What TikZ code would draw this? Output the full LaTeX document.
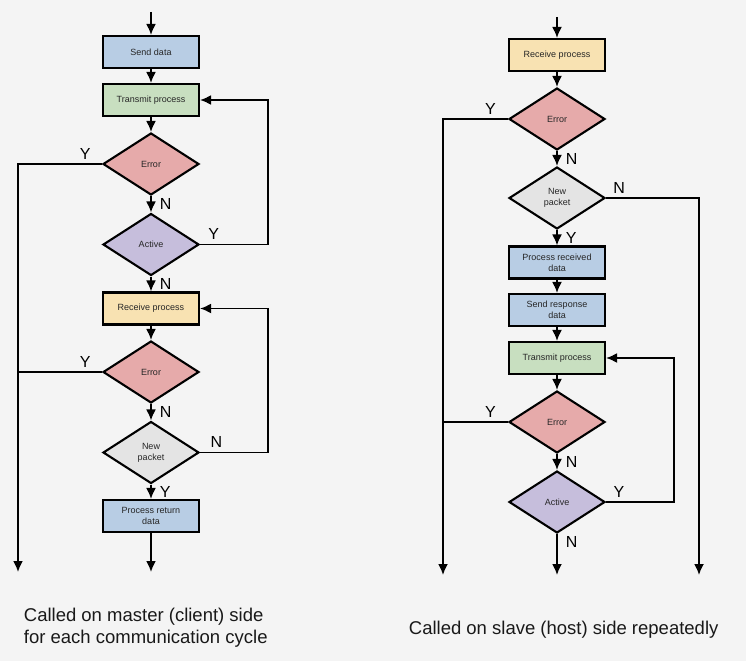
\documentclass[tikz,border=0pt]{standalone}
\usepackage{fontspec}
\setmainfont{Liberation Sans}
\usetikzlibrary{shapes.geometric,arrows.meta}
\definecolor{bgcol}{HTML}{F4F4F4}
\definecolor{procblue}{HTML}{B8CDE4}
\definecolor{txgreen}{HTML}{C8DFC0}
\definecolor{rxyellow}{HTML}{F8E2B2}
\definecolor{errred}{HTML}{E6AAAA}
\definecolor{actpurple}{HTML}{C6BEDC}
\definecolor{newgrey}{HTML}{E4E4E4}

\begin{document}
\begin{tikzpicture}[x=1pt, y=1pt, auto, >={Latex[length=11pt,width=10pt]}, line width=1.8pt]
    \tikzstyle{every node} = [font=\fontsize{9}{11}\selectfont, text=black!85]
    \tikzstyle{textbox} = [align=center, draw, minimum height=32pt, minimum width=96pt, line width=2.1pt, inner sep=1pt]
    \tikzstyle{process} = [textbox, rectangle]
    \tikzstyle{decision} = [textbox, diamond, aspect=1.55, minimum height=62pt, minimum width=96pt, inner sep=0pt]
    \tikzstyle{yn} = [font=\fontsize{16}{16}\selectfont, text=black, inner sep=2pt]
    \tikzstyle{caption} = [font=\fontsize{18.5}{22}\selectfont, align=left, text=black!90, inner sep=0pt, anchor=west]

    \useasboundingbox (0,0) rectangle (746,-661);
    \fill [bgcol] (0,0) rectangle (746,-661);

    % master side
    \node (send) [process, fill=procblue] at (151,-52) {Send data};
    \node (txl) [process, fill=txgreen, below of=send, node distance=48pt] {Transmit process};
    \node (errl) [decision, fill=errred, below of=txl, node distance=64pt] {Error};
    \node (actl) [decision, fill=actpurple, below of=errl, node distance=80.5pt] {Active};
    \node (rxl) [process, fill=rxyellow, below of=actl, node distance=64pt] {Receive process};
    \node (err2l) [decision, fill=errred, below of=rxl, node distance=63.5pt] {Error};
    \node (newl) [decision, fill=newgrey, below of=err2l, node distance=80.5pt] {New\\packet};
    \node (retl) [process, fill=procblue, below of=newl, node distance=63.5pt] {Process return\\data};

    \coordinate (startl) at (151,-12);
    \coordinate (endl) at (18,-572);
    \coordinate (outl) at (151,-572);

    \draw [->] (startl) -- (send);
    \draw [->] (send) -- (txl);
    \draw [->] (txl) -- (errl);
    \draw [->] (errl) -- node[yn, right=6pt] {N} (actl);
    \draw [->] (errl.west) -- node[yn, above=2pt, pos=0.2] {Y} (errl.west -| endl) -- (endl);
    \draw [->] (actl.east) -- node[yn, above=2pt, pos=0.2] {Y} ++(68,0) |- (txl.east);
    \draw [->] (actl) -- node[yn, right=6pt] {N} (rxl);
    \draw [->] (rxl) -- (err2l);
    \draw (err2l.west) -- node[yn, above=2pt, pos=0.2] {Y} (err2l.west -| endl);
    \draw [->] (err2l) -- node[yn, right=6pt] {N} (newl);
    \draw [->] (newl.east) -- node[yn, above=2pt, pos=0.24] {N} ++(68,0) |- (rxl.east);
    \draw [->] (newl) -- node[yn, right=6pt] {Y} (retl);
    \draw [->] (retl) -- (outl);

    % slave side
    \node (rxr) [process, fill=rxyellow] at (557,-55) {Receive process};
    \node (errr) [decision, fill=errred, below of=rxr, node distance=64pt] {Error};
    \node (newr) [decision, fill=newgrey, below of=errr, node distance=79pt] {New\\packet};
    \node (procr) [process, fill=procblue, below of=newr, node distance=64.5pt] {Process received\\data};
    \node (sendr) [process, fill=procblue, below of=procr, node distance=47.5pt] {Send response\\data};
    \node (txr) [process, fill=txgreen, below of=sendr, node distance=48pt] {Transmit process};
    \node (err2r) [decision, fill=errred, below of=txr, node distance=64pt] {Error};
    \node (actr) [decision, fill=actpurple, below of=err2r, node distance=80pt] {Active};

    \coordinate (startr) at (557,-17);
    \coordinate (endrl) at (443,-575);
    \coordinate (endrr) at (699,-575);
    \coordinate (outr) at (557,-575);

    \draw [->] (startr) -- (rxr);
    \draw [->] (rxr) -- (errr);
    \draw [->] (errr.west) -- node[yn, above=2pt, pos=0.27] {Y} (errr.west -| endrl) -- (endrl);
    \draw [->] (errr) -- node[yn, right=6pt] {N} (newr);
    \draw [->] (newr.east) -- node[yn, above=2pt, pos=0.14] {N} (newr.east -| endrr) -- (endrr);
    \draw [->] (newr) -- node[yn, right=6pt] {Y} (procr);
    \draw [->] (procr) -- (sendr);
    \draw [->] (sendr) -- (txr);
    \draw [->] (txr) -- (err2r);
    \draw (err2r.west) -- node[yn, above=2pt, pos=0.27] {Y} (err2r.west -| endrl);
    \draw [->] (err2r) -- node[yn, right=6pt] {N} (actr);
    \draw [->] (actr.east) -- node[yn, above=2pt, pos=0.19] {Y} ++(68,0) |- (txr.east);
    \draw [->] (actr) -- node[yn, right=6pt, pos=0.2] {N} (outr);

    % captions
    \node (capl) [caption] at (23,-628) {Called on master (client) side\\for each communication cycle};
    \node (capr) [caption] at (408,-630) {Called on slave (host) side repeatedly};
\end{tikzpicture}
\end{document}
